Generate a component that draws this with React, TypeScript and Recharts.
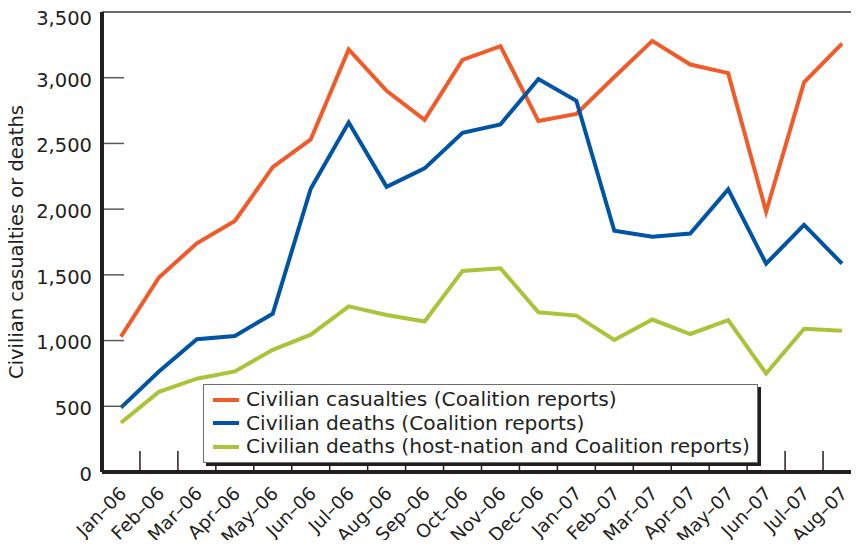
import React from "react";
import { LineChart, Line, XAxis, YAxis, ReferenceLine, Legend, Label } from "recharts";

const months = [
  "Jan–06", "Feb–06", "Mar–06", "Apr–06", "May–06", "Jun–06", "Jul–06",
  "Aug–06", "Sep–06", "Oct–06", "Nov–06", "Dec–06", "Jan–07", "Feb–07",
  "Mar–07", "Apr–07", "May–07", "Jun–07", "Jul–07", "Aug–07",
];

const casualtiesCoalition = [
  1030, 1480, 1740, 1910, 2320, 2530, 3215, 2900, 2680, 3135,
  3240, 2670, 2725, 3005, 3280, 3100, 3035, 1980, 2965, 3260,
];
const deathsCoalition = [
  490, 765, 1010, 1035, 1205, 2155, 2660, 2170, 2310, 2580,
  2645, 2990, 2825, 1835, 1790, 1815, 2150, 1585, 1880, 1585,
];
const deathsHostNation = [
  375, 610, 710, 765, 930, 1045, 1260, 1195, 1145, 1530,
  1550, 1215, 1190, 1005, 1160, 1050, 1155, 750, 1090, 1075,
];

const yTicks = [0, 500, 1000, 1500, 2000, 2500, 3000, 3500];
const monthTicks = months.map((_, i) => i);
const betweenTicks = months.slice(1).map((_, i) => i + 0.5);

const data = months.map((month, i) => ({
  idx: i,
  month,
  casualties: casualtiesCoalition[i],
  deaths: deathsCoalition[i],
  hostNation: deathsHostNation[i],
}));

const INK = "#231f20";
const FONT = 19.5;

// rotated month labels
const MonthTick = (props: any) => {
  const { x, y, payload } = props;
  const tx = x - 3;
  return (
    <text
      x={tx}
      y={y}
      dy="0.73em"
      textAnchor="end"
      fontSize={18.5}
      fill={INK}
      transform={`rotate(-45, ${tx}, ${y})`}
    >
      {months[payload.value]}
    </text>
  );
};

// only the bottom stub of a vertical reference line: a tick between two months
const BetweenTick = (props: any) => {
  const { x1, y1, y2 } = props;
  const bottom = Math.max(y1, y2);
  return <line x1={x1} x2={x1} y1={bottom} y2={bottom - 21} stroke={INK} strokeWidth={1.5} />;
};

// value label on the left plus an inward tick mark
const ValueTick = (props: any) => {
  const { x, y, payload } = props;
  const v = payload.value as number;
  const shift = v === 3500 ? 6 : 2;
  return (
    <g>
      {v > 0 && v < 3500 && (
        <line x1={x + 12} x2={x + 32} y1={y} y2={y} stroke="#58595b" strokeWidth={1.5} />
      )}
      <text x={x} y={y + shift} dy="0.355em" textAnchor="end" fontSize={FONT} fill={INK}>
        {v.toLocaleString("en-US")}
      </text>
    </g>
  );
};

const LegendBox = (props: any) => {
  const { payload = [] } = props;
  return (
    <div
      style={{
        background: "#fff",
        border: "1px solid #6d6e71",
        boxShadow: "3px 3px 0 #231f20",
        padding: "3px 7px 3px 9px",
        fontSize: 20.2,
        lineHeight: "23.5px",
        color: INK,
        whiteSpace: "nowrap",
      }}
    >
      {payload.map((entry: any) => (
        <div key={entry.value} style={{ display: "flex", alignItems: "center" }}>
          <span
            style={{
              display: "inline-block",
              width: 26,
              height: 4,
              background: entry.color,
              marginRight: 7,
            }}
          />
          {entry.value}
        </div>
      ))}
    </div>
  );
};

export default function App() {
  return (
    <div
      style={{
        width: 859,
        height: 548,
        overflow: "hidden",
        margin: -8,
        position: "relative",
        fontFamily: "'DejaVu Sans', sans-serif",
        background: "#fff",
      }}
    >
      <LineChart
        width={870}
        height={548}
        data={data}
        margin={{ top: 12, right: 9, left: 0, bottom: 0 }}
      >
        <XAxis
          type="number"
          dataKey="idx"
          domain={[-0.5, 19.5]}
          ticks={monthTicks}
          allowDataOverflow
          interval={0}
          height={76}
          axisLine={{ stroke: INK, strokeWidth: 4 }}
          tickLine={false}
          tickSize={0}
          tickMargin={13}
          tick={<MonthTick />}
        />
        <YAxis
          width={102}
          domain={[0, 3500]}
          ticks={yTicks}
          interval={0}
          axisLine={{ stroke: INK, strokeWidth: 4 }}
          tickLine={false}
          tickSize={0}
          tickMargin={10}
          tick={<ValueTick />}
        >
          <Label
            value="Civilian casualties or deaths"
            angle={-90}
            position="center"
            dx={-35}
            style={{ fill: INK, fontSize: FONT }}
          />
        </YAxis>
        <ReferenceLine y={3500} stroke="#3a3a3a" strokeWidth={1.5} />
        {betweenTicks.map((t) => (
          <ReferenceLine key={t} x={t} shape={<BetweenTick />} />
        ))}
        <Legend
          layout="vertical"
          align="center"
          verticalAlign="middle"
          content={<LegendBox />}
          wrapperStyle={{ left: 203, top: 384, width: "auto" }}
        />
        <Line
          type="linear"
          dataKey="casualties"
          name="Civilian casualties (Coalition reports)"
          stroke="#f15a29"
          strokeWidth={4}
          dot={false}
          isAnimationActive={false}
        />
        <Line
          type="linear"
          dataKey="deaths"
          name="Civilian deaths (Coalition reports)"
          stroke="#0054a4"
          strokeWidth={4}
          dot={false}
          isAnimationActive={false}
        />
        <Line
          type="linear"
          dataKey="hostNation"
          name="Civilian deaths (host-nation and Coalition reports)"
          stroke="#a8c439"
          strokeWidth={4}
          dot={false}
          isAnimationActive={false}
        />
      </LineChart>
    </div>
  );
}
